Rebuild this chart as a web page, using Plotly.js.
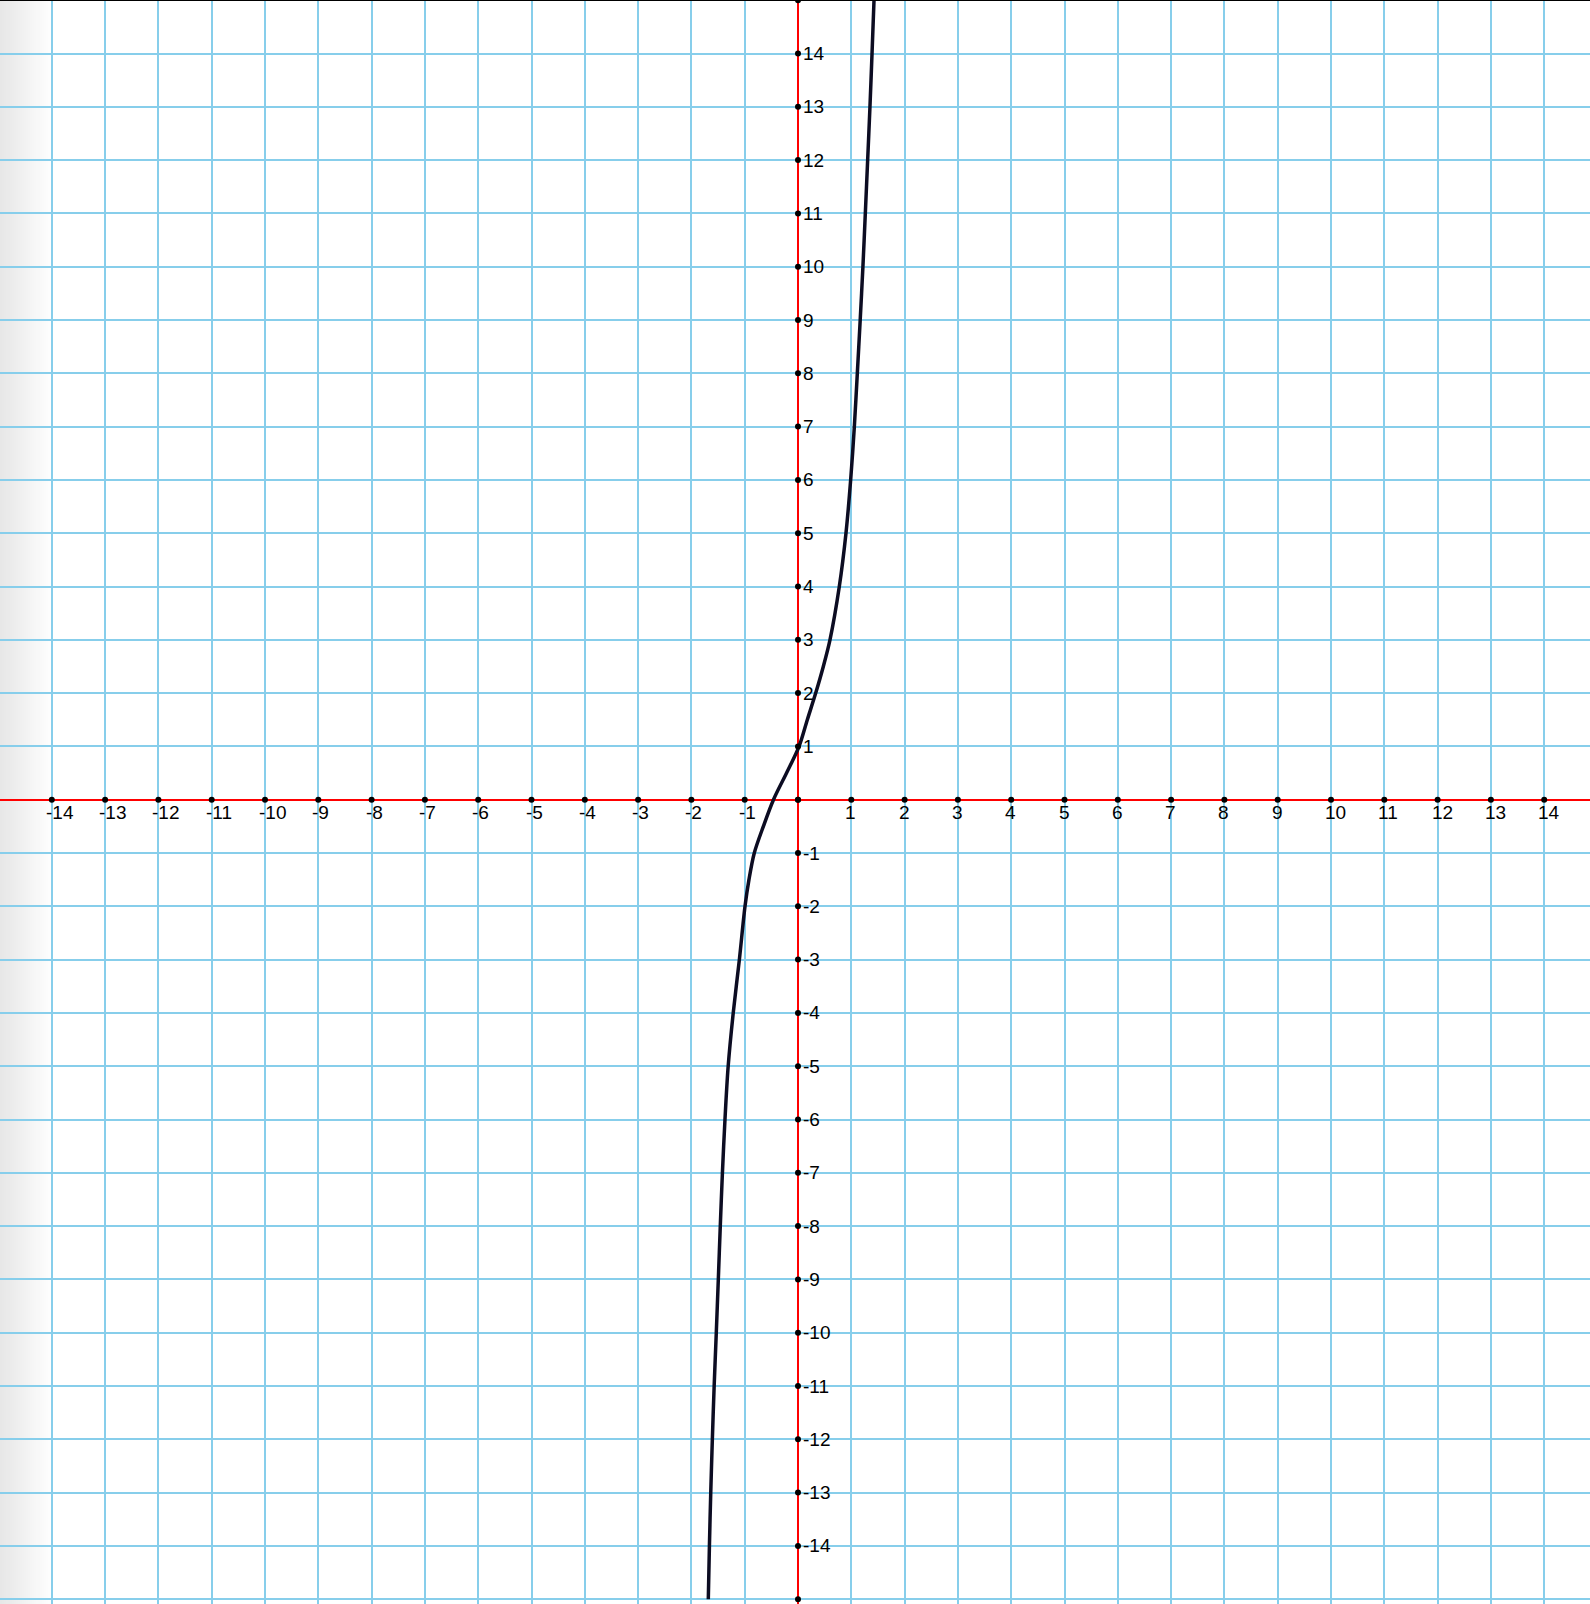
<!DOCTYPE html>
<html>
<head>
<meta charset="utf-8">
<script src="https://cdn.plot.ly/plotly-3.0.1.min.js"></script>
<style>
  html, body { margin: 0; padding: 0; background: #ffffff; }
  #chart { width: 1590px; height: 1604px; }
</style>
</head>
<body>
<div id="chart"></div>
<script>
// ---- Data ----
// Curve samples (x, y)
const curveX = [-1.683, -1.662, -1.637, -1.607, -1.573, -1.533, -1.495, -1.458, -1.418, -1.370,
                -1.310, -1.215, -1.100, -0.994, -0.920, -0.820, -0.650, -0.460, -0.215, 0.020,
                0.175, 0.332, 0.475, 0.600, 0.775, 0.900, 0.988, 1.057, 1.113, 1.167,
                1.218, 1.263, 1.307, 1.350, 1.389, 1.426];
const curveY = [-15, -14, -13, -12, -11, -10, -9, -8, -7, -6,
                -5, -4, -3, -2, -1.5, -1, -0.5, 0, 0.5, 1,
                1.5, 2, 2.5, 3, 4, 5, 6, 7, 8, 9,
                10, 11, 12, 13, 14, 15];

// Axis tick positions (dots) and tick labels
const xTickVals = [-14, -13, -12, -11, -10, -9, -8, -7, -6, -5, -4, -3, -2, -1, 0,
                   1, 2, 3, 4, 5, 6, 7, 8, 9, 10, 11, 12, 13, 14];
const yTickVals = [-15, -14, -13, -12, -11, -10, -9, -8, -7, -6, -5, -4, -3, -2, -1, 0,
                   1, 2, 3, 4, 5, 6, 7, 8, 9, 10, 11, 12, 13, 14, 15];
const xLabelVals = [-14, -13, -12, -11, -10, -9, -8, -7, -6, -5, -4, -3, -2, -1,
                    1, 2, 3, 4, 5, 6, 7, 8, 9, 10, 11, 12, 13, 14];
const yLabelVals = [-14, -13, -12, -11, -10, -9, -8, -7, -6, -5, -4, -3, -2, -1,
                    1, 2, 3, 4, 5, 6, 7, 8, 9, 10, 11, 12, 13, 14];

// ---- Build the figure ----
const W = 1590, H = 1604;
const unit = 53.3;
const originPx = 798, originPy = 799.7;
const xRange = [-originPx / unit, (W - originPx) / unit];
const yRange = [-(H - originPy) / unit, originPy / unit];

const labelFont = { family: 'Liberation Sans, Arial, Helvetica, sans-serif', size: 19, color: '#000000' };

const traces = [
  {
    x: curveX, y: curveY, type: 'scatter', mode: 'lines',
    line: { color: '#0c0c22', width: 3.5, shape: 'spline', smoothing: 0.9 },
    hoverinfo: 'skip', showlegend: false
  },
  {
    x: xTickVals, y: xTickVals.map(() => 0), type: 'scatter', mode: 'markers',
    marker: { color: '#000000', size: 6 }, hoverinfo: 'skip', showlegend: false
  },
  {
    x: yTickVals.map(() => 0), y: yTickVals, type: 'scatter', mode: 'markers',
    marker: { color: '#000000', size: 6 }, hoverinfo: 'skip', showlegend: false, cliponaxis: false
  }
];

const annotations = [];
xLabelVals.forEach(v => annotations.push({
  x: v, y: 0, xref: 'x', yref: 'y', text: String(v), showarrow: false,
  xanchor: 'left', yanchor: 'middle', xshift: -7, yshift: -13,
  font: labelFont, borderpad: 0
}));
yLabelVals.forEach(v => annotations.push({
  x: 0, y: v, xref: 'x', yref: 'y', text: String(v), showarrow: false,
  xanchor: 'left', yanchor: 'middle', xshift: 4, yshift: 0,
  font: labelFont, borderpad: 0
}));

// left-edge soft shadow and top border (decoration)
const shapes = [];
const stripW = 2, stripN = 26;
for (let i = 0; i < stripN; i++) {
  const a = 0.095 * (1 - i / stripN);
  shapes.push({
    type: 'rect', xref: 'paper', yref: 'paper',
    x0: (i * stripW) / W, x1: ((i + 1) * stripW) / W, y0: 0, y1: 1,
    line: { width: 0 }, fillcolor: 'rgba(0,0,0,' + a.toFixed(4) + ')', layer: 'below'
  });
}
shapes.push({
  type: 'line', xref: 'paper', yref: 'paper', x0: 0, x1: 1, y0: 1, y1: 1,
  line: { color: '#000000', width: 2 }, layer: 'above'
});

const axisCommon = {
  showgrid: true, gridcolor: '#87CEEB', gridwidth: 2,
  zeroline: true, zerolinecolor: '#ff0000', zerolinewidth: 2,
  showticklabels: false, ticks: '', showline: false,
  dtick: 1, tick0: 0, fixedrange: true
};

const layout = {
  width: W, height: H,
  margin: { l: 0, r: 0, t: 0, b: 0, pad: 0 },
  paper_bgcolor: '#ffffff', plot_bgcolor: '#ffffff',
  xaxis: Object.assign({}, axisCommon, { range: xRange }),
  yaxis: Object.assign({}, axisCommon, { range: yRange }),
  annotations: annotations,
  shapes: shapes,
  showlegend: false
};

Plotly.newPlot('chart', traces, layout, { staticPlot: true, displayModeBar: false });
</script>
</body>
</html>
